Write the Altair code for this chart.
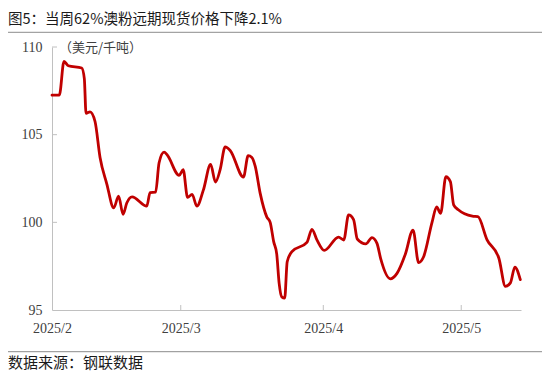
import altair as alt
import pandas as pd

title_text = "图5：当周62%澳粉远期现货价格下降2.1%"
unit_text = "（美元/千吨）"
source_text = "数据来源：钢联数据"

# time of each reading, in days after 2025-02-01
day_offsets = [
    0.0, 1.59, 2.61, 3.55, 6.46, 7.03, 7.40, 8.27, 9.36, 10.45,
    11.91, 13.43, 14.48, 15.45, 16.26, 17.41, 20.61, 21.33, 22.53, 23.29,
    24.38, 25.03, 27.65, 28.52, 29.49, 30.47, 31.50, 32.93, 34.50, 35.55,
    36.57, 37.66, 38.75, 41.64, 42.66, 43.47, 44.19, 45.28, 46.73, 47.45,
    48.21, 48.87, 49.41, 49.96, 50.61, 51.15, 52.18, 55.44, 56.53, 57.62,
    59.21, 62.32, 63.45, 64.50, 65.59, 66.39, 68.24, 69.59, 70.68, 71.51,
    73.57, 75.03, 76.84, 78.52, 79.73, 80.82, 82.65, 83.65, 84.52, 85.66,
    86.64, 87.35, 88.44, 91.42, 92.62, 94.62, 97.19, 98.61, 99.70, 100.67,
    101.85,
]
prices = [
    107.25, 107.25, 109.18, 108.93, 108.80, 108.20, 106.22, 106.30, 105.75, 103.70,
    102.20, 100.82, 101.50, 100.46, 101.10, 101.45, 100.92, 101.70, 101.72, 103.40,
    104.00, 103.85, 102.68, 103.00, 101.42, 101.60, 100.92, 101.85, 103.30, 102.30,
    103.00, 104.30, 104.10, 102.58, 103.80, 103.70, 103.20, 101.65, 100.30, 100.00,
    98.90, 98.20, 96.50, 95.75, 95.68, 97.75, 98.33, 98.86, 99.60, 99.00,
    98.40, 99.16, 98.99, 100.42, 100.15, 99.05, 98.77, 99.13, 98.80, 97.90,
    96.78, 97.09, 98.18, 99.56, 97.70, 98.04, 100.00, 100.88, 100.51, 102.60,
    102.32, 101.00, 100.70, 100.35, 100.32, 99.00, 97.95, 96.35, 96.55, 97.45,
    96.73,
]

month_ticks = ["2025-02-01", "2025-03-01", "2025-04-01", "2025-05-01"]
y_ticks = [95, 100, 105, 110]

start = pd.Timestamp("2025-02-01")
df = pd.DataFrame({
    "date": start + pd.to_timedelta(day_offsets, unit="D"),
    "price": prices,
})

W, H = 469, 263
axis_color = "#c0c0c0"
label_color = "#404040"

xscale = alt.Scale(domain=[alt.DateTime(year=2025, month=2, date=1),
                           alt.DateTime(year=2025, month=5, date=14)])
yscale = alt.Scale(domain=[95, 110], nice=False, zero=False)

xaxis = alt.Axis(
    values=[alt.DateTime(year=2025, month=int(m[5:7]), date=1) for m in month_ticks],
    format="%Y/%-m", title=None, grid=False, ticks=False, tickSize=0,
    domainColor=axis_color, labelFont="Liberation Serif", labelFontSize=14,
    labelColor=label_color, labelPadding=11, labelFlush=False, labelOverlap=False,
)
yaxis = alt.Axis(
    values=y_ticks, title=None, grid=False, ticks=False, tickSize=0,
    domainColor=axis_color, labelFont="Liberation Serif", labelFontSize=14,
    labelColor=label_color, labelPadding=10,
)

line = alt.Chart(df).mark_line(
    color="#C00000", strokeWidth=2.8, interpolate="monotone", strokeJoin="round", strokeCap="round"
).encode(
    x=alt.X("date:T", scale=xscale, axis=xaxis),
    y=alt.Y("price:Q", scale=yscale, axis=yaxis),
)

xt_df = pd.DataFrame({"date": pd.to_datetime(month_ticks[1:])})
x_ticks_layer = alt.Chart(xt_df).mark_rule(color=axis_color, strokeWidth=1).encode(
    x=alt.X("date:T", scale=xscale, axis=xaxis),
    y=alt.value(H - 5), y2=alt.value(H),
)

yt_df = pd.DataFrame({"price": y_ticks[1:]})
y_ticks_layer = alt.Chart(yt_df).mark_rule(color=axis_color, strokeWidth=1).encode(
    y=alt.Y("price:Q", scale=yscale, axis=yaxis),
    x=alt.value(0), x2=alt.value(5),
)

title_layer = alt.Chart(pd.DataFrame({"t": [title_text]})).mark_text(
    align="left", baseline="middle", font="Noto Sans CJK SC", fontSize=14.5, color="#1a1a1a"
).encode(x=alt.value(-44), y=alt.value(-27.5), text="t:N")

unit_layer = alt.Chart(pd.DataFrame({"t": [unit_text]})).mark_text(
    align="left", baseline="middle", font="Noto Sans CJK SC", fontSize=13, color="#404040"
).encode(x=alt.value(7), y=alt.value(1), text="t:N")

source_layer = alt.Chart(pd.DataFrame({"t": [source_text]})).mark_text(
    align="left", baseline="middle", font="Noto Sans CJK SC", fontSize=15, color="#1a1a1a"
).encode(x=alt.value(-44), y=alt.value(316), text="t:N")

top_rule = alt.Chart(pd.DataFrame({"k": [0]})).mark_rule(color="#8c8c8c", strokeWidth=1).encode(
    x=alt.value(-44), x2=alt.value(490), y=alt.value(-14.7)
)
bottom_rule = alt.Chart(pd.DataFrame({"k": [0]})).mark_rule(color="#8c8c8c", strokeWidth=1).encode(
    x=alt.value(-44), x2=alt.value(490), y=alt.value(304.7)
)

chart = alt.layer(
    top_rule, bottom_rule, title_layer, source_layer, unit_layer,
    x_ticks_layer, y_ticks_layer, line,
).properties(
    width=W, height=H,
    autosize=alt.AutoSizeParams(type="none"),
    padding={"left": 44, "top": 39, "right": 21, "bottom": 63},
    background="white",
).configure_view(strokeWidth=0)

chart.save("out.html", embed_options={"renderer": "svg", "actions": False})
